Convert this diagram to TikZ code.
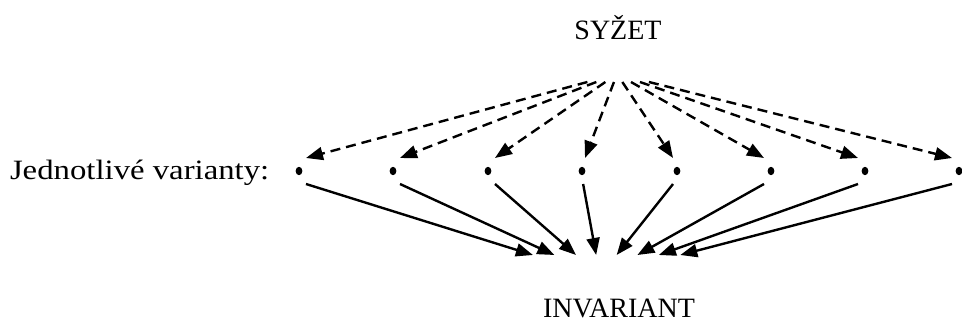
\documentclass[tikz,border=0pt]{standalone}
\usepackage{fontspec}
\setmainfont{Liberation Serif}
\newfontfamily\widefont[FakeStretch=1.17]{Liberation Serif}
\usetikzlibrary{arrows.meta}
\begin{document}
\begin{tikzpicture}[x=1pt,y=-1pt,
  every node/.style={inner sep=0pt, outer sep=0pt},
  txt/.style={font=\fontsize{28}{30}\selectfont},
  hub/.style={rectangle, minimum width=100pt, minimum height=16pt},
  sink/.style={rectangle, minimum width=200pt, minimum height=42pt},
  varnode/.style={rectangle, minimum width=14pt, minimum height=26pt,
    path picture={\fill (path picture bounding box.center) ellipse [x radius=3.4pt, y radius=4.2pt];}},
  toform/.style={-{Triangle[length=17pt,width=13pt]}, line width=2.4pt, dash pattern=on 10pt off 6pt},
  toinv/.style={-{Triangle[length=17pt,width=13pt]}, line width=2.4pt}]
\useasboundingbox (0,0) rectangle (962,323);

% labels
\node[txt, anchor=base] (syzet) at (618,39.5) {SYŽET};
\node[txt, anchor=base west] (label) at (10,180) {\widefont Jednotlivé varianty:};
\node[txt, anchor=base] (inv) at (619,318) {INVARIANT};

% invisible hubs where the fans meet
\node[hub] (fan) at (617,74) {};
\node[sink] (sink) at (600,276) {};

% the individual variants
\foreach \i/\x in {0/299,1/393,2/488,3/582,4/677,5/771,6/865,7/959}
  \node[varnode] (v\i) at (\x,171) {};

% dashed fan from the sjužet, solid fan into the invariant
\foreach \i in {0,1,2} {
  \draw[toform] (fan) -- (v\i.north east);
  \draw[toinv] (v\i.south east) -- (sink);
}
\draw[toform] (fan) -- (v3.77);
\draw[toinv] (v3.-85) -- (sink);
\draw[toform] (fan) -- (v4.107);
\draw[toinv] (v4.-107) -- (sink);
\foreach \i in {5,6,7} {
  \draw[toform] (fan) -- (v\i.north west);
  \draw[toinv] (v\i.south west) -- (sink);
}
\end{tikzpicture}
\end{document}
